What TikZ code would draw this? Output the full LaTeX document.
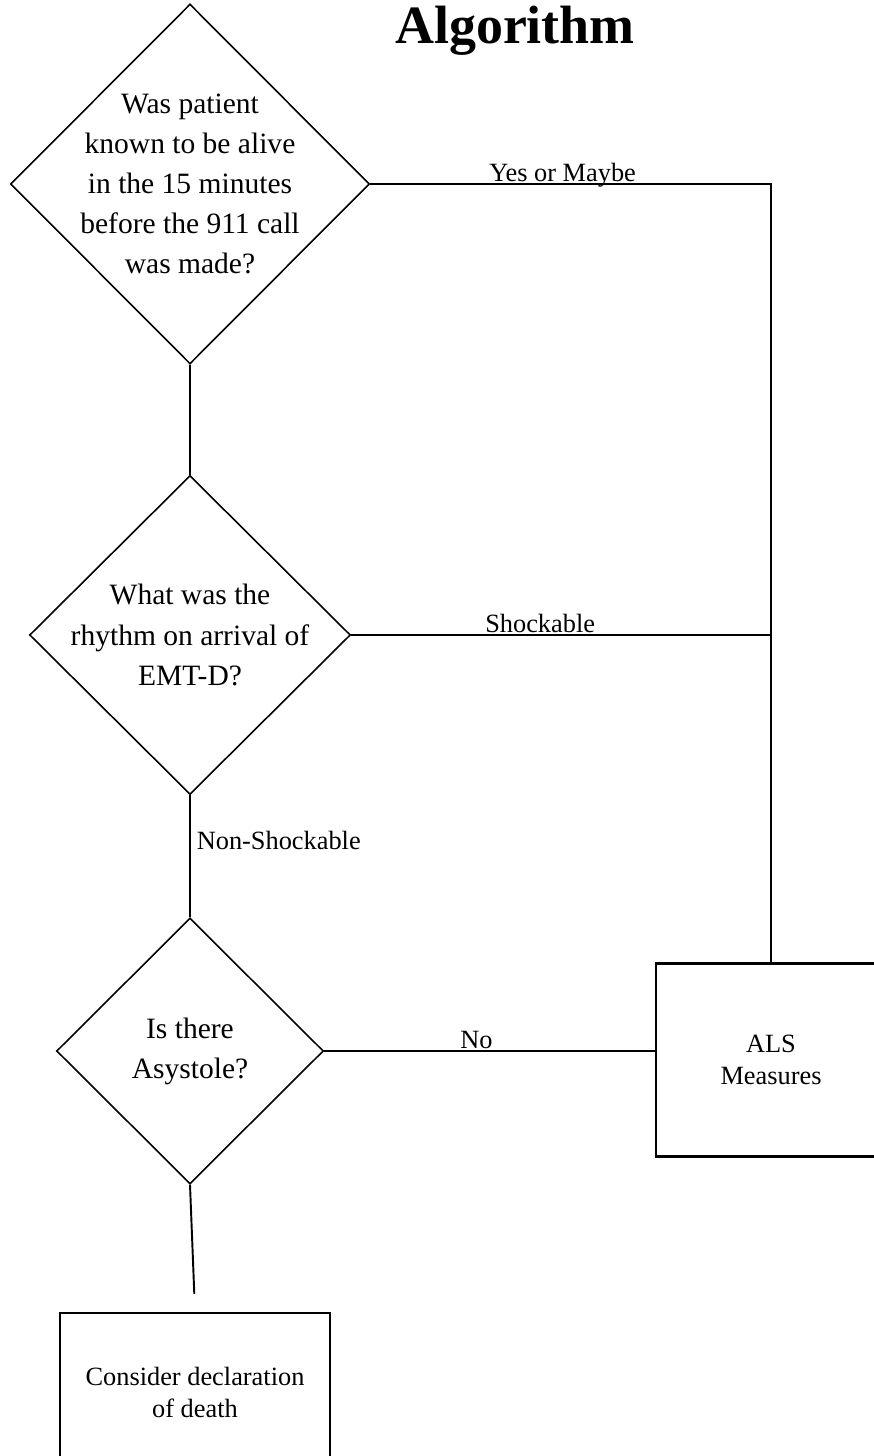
\documentclass[tikz,border=0pt]{standalone}
\usepackage{fontspec}
\setmainfont{Liberation Serif}
\usetikzlibrary{shapes,arrows,positioning,calc}

\begin{document}
\begin{tikzpicture}[
    x=0.02cm, y=-0.02cm,
    decision/.style={diamond, draw, line width=0.9pt, inner sep=-3cm, align=center, font=\fontsize{16.8}{22.8}\selectfont},
    action/.style={rectangle, draw, line width=1.2pt, align=center, font=\fontsize{15}{18.2}\selectfont},
    branch/.style={anchor=base, inner sep=0pt, yshift=0.05cm, font=\fontsize{15}{18}\selectfont},
    wire/.style={line width=1.1pt}
]

% Page frame
\useasboundingbox (0,0) rectangle (874,1456);
\clip (0,0) rectangle (874,1456);

% Title
\node[font=\fontsize{30.7}{36}\selectfont\bfseries, anchor=base] (title) at (515,44) {Algorithm};

% Decisions
\node[decision, minimum width=7.18cm, minimum height=7.2cm] (alive) at (190,184) {Was patient\\known to be alive\\in the 15 minutes\\before the 911 call\\was made?};
\node[decision, minimum width=6.42cm, minimum height=6.38cm, below=2.2cm of alive] (rhythm) {What was the\\rhythm on arrival of\\EMT-D?};
\node[decision, minimum width=5.34cm, minimum height=5.32cm, below=2.44cm of rhythm] (asystole) {Is there\\Asystole?};

% Actions
\node[action, minimum width=4.6cm, minimum height=3.86cm] (als) at (771,1060) {ALS\\Measures};
\node[action, minimum width=5.4cm, minimum height=3.2cm, below=2.54cm of asystole, xshift=0.1cm] (death) {Consider declaration\\of death};

% Connectors
\draw[wire] (alive.east) -- node[branch, pos=0.48] {Yes or Maybe} (alive.east -| als.north) -- (als.north);
\draw[wire] (alive.south) -- (rhythm.north);
\draw[wire] (rhythm.east) -- node[branch, pos=0.45] {Shockable} (rhythm.east -| als.north);
\draw[wire] (rhythm.south) -- node[right, pos=0.37, font=\fontsize{15}{18}\selectfont] {Non-Shockable} (asystole.north);
\draw[wire] (asystole.east) -- node[branch, pos=0.46] {No} (asystole.east -| als.west);
\draw[wire, shorten >=0.36cm] (asystole.south) -- (death.north);

\end{tikzpicture}
\end{document}
